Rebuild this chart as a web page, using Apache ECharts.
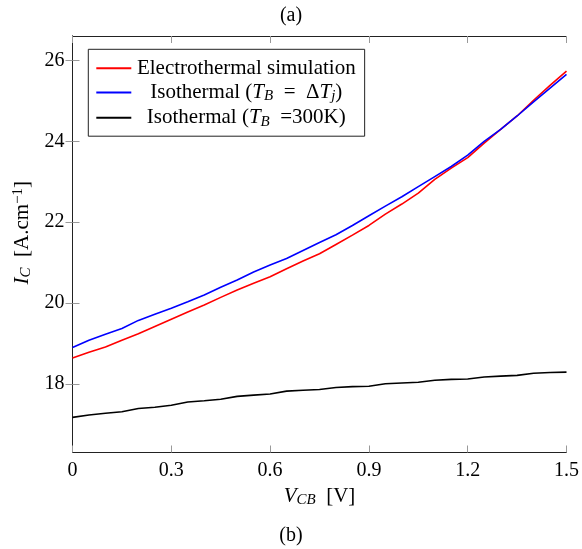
<!DOCTYPE html>
<html>
<head>
<meta charset="utf-8">
<script src="https://cdn.jsdelivr.net/npm/echarts@6/dist/echarts.min.js"></script>
<style>
  html, body { margin: 0; padding: 0; background: #fff; }
  #chart { width: 582px; height: 549px; }
</style>
</head>
<body>
<div id="chart"></div>
<script>
// Collector-base voltage V_CB [V]
const vcb = [0, 0.05, 0.1, 0.15, 0.2, 0.25, 0.3, 0.35, 0.4, 0.45, 0.5,
             0.55, 0.6, 0.65, 0.7, 0.75, 0.8, 0.85, 0.9, 0.95, 1.0,
             1.05, 1.1, 1.15, 1.2, 1.25, 1.3, 1.35, 1.4, 1.45, 1.5];

// Collector current I_C [A.cm^-1]
const electrothermal = [18.64, 18.78, 18.91, 19.08, 19.24, 19.42, 19.60, 19.78, 19.95, 20.14, 20.32,
                        20.49, 20.65, 20.85, 21.04, 21.22, 21.45, 21.68, 21.92, 22.20, 22.45,
                        22.72, 23.06, 23.34, 23.60, 23.96, 24.30, 24.63, 25.02, 25.39, 25.74];
const isoDeltaTj = [18.90, 19.08, 19.23, 19.37, 19.57, 19.72, 19.87, 20.03, 20.20, 20.39, 20.57,
                    20.77, 20.94, 21.10, 21.30, 21.50, 21.69, 21.92, 22.16, 22.40, 22.63,
                    22.88, 23.13, 23.38, 23.66, 24.00, 24.30, 24.63, 24.98, 25.32, 25.66];
const iso300K = [17.17, 17.23, 17.27, 17.31, 17.39, 17.42, 17.47, 17.55, 17.58, 17.62, 17.69,
                 17.72, 17.75, 17.82, 17.84, 17.86, 17.91, 17.93, 17.94, 18.00, 18.02,
                 18.04, 18.09, 18.11, 18.12, 18.17, 18.19, 18.21, 18.26, 18.28, 18.29];

const seriesNames = ['Electrothermal simulation', 'Isothermal (T_B = ΔT_j)', 'Isothermal (T_B =300K)'];
const seriesColors = ['#ff0000', '#0000ff', '#000000'];

// Tick positions
const yTicks = [18, 20, 22, 24, 26];
const xMin = 0, xMax = 1.5, xStep = 0.3;

const SERIF = 'Liberation Serif';
const FS = 20;      // tick labels and captions
const FS_TEXT = 21; // legend and axis titles
const FS_SUB = 15;

// Rich-text styles for math-like labels (italic symbols, sub/superscripts)
const mathRich = (align) => ({
  n: { fontFamily: SERIF, fontSize: FS_TEXT, color: '#000', lineHeight: 23, align: align },
  i: { fontFamily: SERIF, fontSize: FS_TEXT, color: '#000', fontStyle: 'italic', lineHeight: 23, align: align },
  s: { fontFamily: SERIF, fontSize: FS_SUB, color: '#000', fontStyle: 'italic', verticalAlign: 'bottom', align: align },
  p: { fontFamily: SERIF, fontSize: FS_SUB, color: '#000', verticalAlign: 'top', align: align }
});

const legendLabels = {
  'Electrothermal simulation': '{n|Electrothermal simulation}',
  'Isothermal (T_B = ΔT_j)': '{n|Isothermal (}{i|T}{s|B}{n|  =  Δ}{i|T}{s|j}{n|)}',
  'Isothermal (T_B =300K)': '{n|Isothermal (}{i|T}{s|B}{n|  =300K)}'
};

const curves = [electrothermal, isoDeltaTj, iso300K];

const chart = echarts.init(document.getElementById('chart'), null, { renderer: 'canvas' });

const tickStyle = { show: true, inside: true, length: 7, lineStyle: { color: '#999', width: 1 } };
const frameLine = { show: true, lineStyle: { color: '#222', width: 1 } };
const captionStyle = { fontFamily: SERIF, fontSize: FS, fontWeight: 'normal', color: '#000' };

chart.setOption({
  animation: false,
  backgroundColor: '#fff',
  title: [
    { text: '(a)', left: 'center', top: 1, textStyle: captionStyle },
    { text: '(b)', left: 'center', top: 521, textStyle: captionStyle }
  ],
  grid: { left: 72.5, right: 11, top: 36, bottom: 96.5, containLabel: false },
  legend: {
    left: 88.3, top: 49.3,
    orient: 'vertical',
    padding: [8.5, 9, 7, 8],
    itemGap: 3.2,
    itemWidth: 35,
    itemHeight: 2,
    icon: 'rect',
    borderColor: '#222',
    borderWidth: 1,
    borderRadius: 0,
    backgroundColor: '#fff',
    data: seriesNames,
    formatter: (name) => legendLabels[name],
    textStyle: { fontFamily: SERIF, fontSize: FS_TEXT, color: '#000', width: 220, rich: mathRich('center') }
  },
  xAxis: [
    {
      type: 'value', min: xMin, max: xMax, interval: xStep, position: 'bottom',
      name: '{i|V}{s|CB}{n|  [V]}', nameLocation: 'middle', nameGap: 32,
      nameTextStyle: { rich: mathRich('left') },
      axisLine: frameLine, axisTick: tickStyle, splitLine: { show: false },
      axisLabel: { fontFamily: SERIF, fontSize: FS, color: '#000', margin: 8,
        formatter: (v) => (v === 0 ? '0' : v.toFixed(1)) }
    },
    {
      type: 'value', min: xMin, max: xMax, interval: xStep, position: 'top',
      axisLine: frameLine, axisTick: tickStyle, splitLine: { show: false },
      axisLabel: { show: false }
    }
  ],
  yAxis: [
    {
      type: 'value', min: 16.3, max: 26.61, position: 'left',
      name: '{i|I}{s|C}{n|  [A.cm}{p|−1}{n|]}', nameLocation: 'middle', nameGap: 38, nameRotate: 90,
      nameTextStyle: { rich: mathRich('left'), padding: [0, 0, 0, 23] },
      axisLine: frameLine,
      axisTick: Object.assign({}, tickStyle, { customValues: yTicks }),
      splitLine: { show: false },
      axisLabel: { fontFamily: SERIF, fontSize: FS, color: '#000', margin: 8, customValues: yTicks }
    },
    {
      type: 'value', min: 16.3, max: 26.61, position: 'right',
      axisLine: frameLine,
      axisTick: Object.assign({}, tickStyle, { customValues: yTicks }),
      splitLine: { show: false },
      axisLabel: { show: false, customValues: yTicks }
    }
  ],
  series: seriesNames.map((name, k) => ({
    name: name,
    type: 'line',
    xAxisIndex: 0,
    yAxisIndex: 0,
    symbol: 'none',
    color: seriesColors[k],
    lineStyle: { color: seriesColors[k], width: 1.6 },
    data: vcb.map((v, i) => [v, curves[k][i]])
  }))
});
</script>
</body>
</html>
